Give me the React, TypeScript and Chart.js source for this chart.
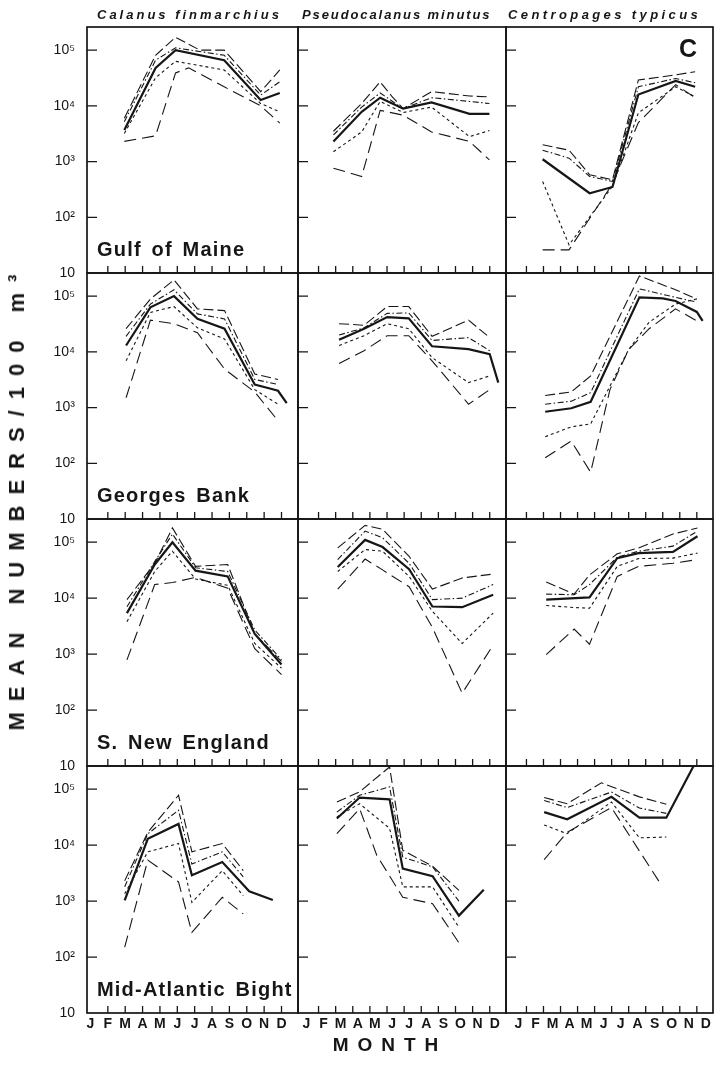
import React, { useEffect, useRef } from 'react';
import { Chart, registerables } from 'chart.js';
Chart.register(...registerables);

// ---------- tick labels / categories ----------
const MONTHS = ['J', 'F', 'M', 'A', 'M', 'J', 'J', 'A', 'S', 'O', 'N', 'D'];
const Y_TICKS = [10, 100, 1000, 10000, 100000];
const Y_LABELS = ['10', '10²', '10³', '10⁴', '10⁵'];
const SPECIES = ['Calanus finmarchius', 'Pseudocalanus minutus', 'Centropages typicus'];
const REGIONS = ['Gulf of Maine', 'Georges Bank', 'S. New England', 'Mid-Atlantic Bight'];

// ---------- data (month position 0 = Jan tick; values per 100 m3) ----------
// series order per panel: mean, upper outer, upper inner, lower inner, lower outer
const gomCalMonths = [1.95, 3.75, 4.9, 5.65, 6.3, 7.7, 9.8, 10.9];
const gomCalMean = [3700, 48000, 100000, null, null, 66000, 12700, 17000];
const gomCalHiO = [6000, 81000, 170000, null, 100000, 100000, 18000, 44000];
const gomCalHiI = [5200, 66000, 110000, null, null, 81000, 15600, 27000];
const gomCalLoI = [3200, 32000, 63000, null, null, 44000, 11000, 7800];
const gomCalLoO = [2300, 2900, 39000, 48000, null, 22000, 10000, 4900];

const gomPseMonths = [1.87, 3.52, 4.6, 5.27, 5.94, 7.6, 9.82, 10.98];
const gomPseMean = [2300, 7800, 14000, null, 8900, 11500, 7200, 7200];
const gomPseHiO = [3500, 11000, 27000, 15000, 8900, 18000, 15000, 14500];
const gomPseHiI = [3000, 9500, 17000, null, 8900, 14000, 12000, 11000];
const gomPseLoI = [1500, 3400, 12000, null, 7600, 9500, 2800, 3600];
const gomPseLoO = [760, 540, 8300, null, 6800, 3400, 2300, 1070];

const gomCenMonths = [1.95, 3.5, 4.71, 6.05, 7.57, 9.76, 10.9];
const gomCenMean = [1100, null, 270, 350, 16000, 28000, 22000];
const gomCenHiO = [2000, 1600, 580, 470, 29000, 36000, 41000];
const gomCenHiI = [1600, 1150, 540, 440, 22000, 31000, 26000];
const gomCenLoI = [440, 32, null, 360, 7500, 22000, 14500];
const gomCenLoO = [26, 26, null, 400, 5000, 24000, 14000];

const gbCalMonths = [2.05, 3.45, 4.81, 6.16, 7.72, 9.46, 10.33, 10.8, 11.3];
const gbCalMean = [13000, 63000, 100000, 39000, 26000, 2600, 2200, 2000, 1200];
const gbCalHiO = [26000, 89000, 195000, 59000, 55000, 4000, null, 3200, null];
const gbCalHiI = [19000, 72000, 130000, 48000, 39000, 3200, null, 2600, null];
const gbCalLoI = [6900, 51000, 65000, 27000, 17000, 2100, null, 1150, null];
const gbCalLoO = [1500, 37000, 32000, 22000, 4900, 1900, null, 580, null];

const gbPseMonths = [2.2, 3.66, 5.01, 6.27, 7.63, 9.76, 11.0, 11.5];
const gbPseMean = [16500, 26000, 42000, 40000, 12600, 11200, 9100, 2800];
const gbPseHiO = [32000, 30000, 65000, 65000, 19000, 37000, 18000, null];
const gbPseHiI = [20000, 27000, 49000, 50000, 16000, 18000, 10500, null];
const gbPseLoI = [13000, 19500, 32000, 26000, 7900, 2800, 3700, null];
const gbPseLoO = [6200, 10500, 19500, 19500, 6900, 1150, 2100, null];

const gbCenMonths = [2.1, 3.63, 4.77, 5.9, 7.0, 7.63, 8.2, 9.0, 9.75, 11.0, 11.34];
const gbCenMean = [840, 970, 1270, null, null, 95000, null, 91000, 82000, 52000, 36000];
const gbCenHiO = [1650, 1900, 3700, null, null, 230000, null, null, 130000, 89000, null];
const gbCenHiI = [1150, 1300, 1850, null, null, 135000, null, null, 95000, 78000, null];
const gbCenLoI = [300, 450, 510, null, 11000, null, 34000, null, 72000, 89000, null];
const gbCenLoO = [126, 250, 69, 2100, 11000, null, 26000, null, 59000, 36000, null];

const sneCalMonths = [2.1, 3.7, 4.72, 6.05, 7.9, 9.46, 11.0];
const sneCalMean = [5400, 40000, 100000, 31000, 24500, 2300, 650];
const sneCalHiO = [9400, 42000, 180000, 37000, 40000, 2300, 740];
const sneCalHiI = [7000, 45000, 140000, 35000, 30000, 2700, 790];
const sneCalLoI = [3800, 30000, 69000, 22000, 17000, 1550, 560];
const sneCalLoO = [790, 17500, 19000, 23500, 15000, 1250, 430];

const snePseMonths = [2.12, 3.72, 4.74, 6.29, 7.65, 9.39, 11.2];
const snePseMean = [36000, 110000, 82000, 33000, 7100, 6900, 11500];
const snePseHiO = [79000, 200000, 170000, 56000, 14500, 23000, 27000];
const snePseHiI = [49000, 158000, 120000, 42000, 9400, 10000, 17500];
const snePseLoI = [30000, 74000, 69000, 24500, 5800, 1550, 5400];
const snePseLoO = [14500, 50000, 32000, 16000, 3000, 200, 1450];

const sneCenMonths = [2.16, 3.8, 4.7, 6.33, 7.58, 9.6, 11.04];
const sneCenMean = [9400, null, 10300, 52000, 64000, 67000, 128000];
const sneCenHiO = [19500, 11800, 26000, 62000, 79000, 140000, 180000];
const sneCenHiI = [11800, 11500, 17500, 54000, 69000, 85000, 158000];
const sneCenLoI = [7400, 6800, 6600, 37000, 51000, 52000, 64000];
const sneCenLoO = [980, 2800, 1500, 24500, 37000, 42000, 49000];

const mabCalMonths = [1.97, 3.3, 5.07, 5.84, 7.59, 8.8, 9.14, 10.5];
const mabCalMean = [1030, 13000, 24000, 2900, 5000, null, 1500, 1050];
const mabCalHiO = [2300, 17000, 78000, 7600, 10700, 3500, null, null];
const mabCalHiI = [1800, 16000, 42000, 4600, 7600, 2700, null, null];
const mabCalLoI = [1350, 7600, 10700, 950, 3500, 1250, null, null];
const mabCalLoO = [150, 5400, 2200, 275, 1170, 590, null, null];

const mabPseMonths = [2.07, 3.4, 4.4, 5.15, 5.92, 7.66, 9.2, 10.65];
const mabPseMean = [30000, 71000, null, 66000, 3800, 2800, 550, 1600];
const mabPseHiO = [59000, 90000, null, 250000, 8100, 4200, 1550, null];
const mabPseHiI = [39000, 78000, null, 110000, 6100, 4100, 1000, null];
const mabPseLoI = [32000, 55000, null, 20000, 1800, 1800, 340, null];
const mabPseLoO = [16000, 45000, 6600, null, 1170, 900, 180, null];

const mabCenMonths = [2.04, 3.39, 5.4, 5.99, 7.63, 8.8, 9.21, 10.81];
const mabCenMean = [39000, 29000, null, 73000, 31000, null, 31000, 260000];
const mabCenHiO = [71000, 55000, 130000, null, 73000, null, 54000, null];
const mabCenHiI = [63000, 47000, null, 89000, 46000, null, 37000, null];
const mabCenLoI = [23000, 16000, null, 59000, 13500, null, 14000, null];
const mabCenLoO = [5500, 17000, null, 47000, null, 2200, null, null];

type Panel = { row: number; col: number; months: number[]; series: (number | null)[][] };
const PANELS: Panel[] = [
  { row: 0, col: 0, months: gomCalMonths, series: [gomCalMean, gomCalHiO, gomCalHiI, gomCalLoI, gomCalLoO] },
  { row: 0, col: 1, months: gomPseMonths, series: [gomPseMean, gomPseHiO, gomPseHiI, gomPseLoI, gomPseLoO] },
  { row: 0, col: 2, months: gomCenMonths, series: [gomCenMean, gomCenHiO, gomCenHiI, gomCenLoI, gomCenLoO] },
  { row: 1, col: 0, months: gbCalMonths, series: [gbCalMean, gbCalHiO, gbCalHiI, gbCalLoI, gbCalLoO] },
  { row: 1, col: 1, months: gbPseMonths, series: [gbPseMean, gbPseHiO, gbPseHiI, gbPseLoI, gbPseLoO] },
  { row: 1, col: 2, months: gbCenMonths, series: [gbCenMean, gbCenHiO, gbCenHiI, gbCenLoI, gbCenLoO] },
  { row: 2, col: 0, months: sneCalMonths, series: [sneCalMean, sneCalHiO, sneCalHiI, sneCalLoI, sneCalLoO] },
  { row: 2, col: 1, months: snePseMonths, series: [snePseMean, snePseHiO, snePseHiI, snePseLoI, snePseLoO] },
  { row: 2, col: 2, months: sneCenMonths, series: [sneCenMean, sneCenHiO, sneCenHiI, sneCenLoI, sneCenLoO] },
  { row: 3, col: 0, months: mabCalMonths, series: [mabCalMean, mabCalHiO, mabCalHiI, mabCalLoI, mabCalLoO] },
  { row: 3, col: 1, months: mabPseMonths, series: [mabPseMean, mabPseHiO, mabPseHiI, mabPseLoI, mabPseLoO] },
  { row: 3, col: 2, months: mabCenMonths, series: [mabCenMean, mabCenHiO, mabCenHiI, mabCenLoI, mabCenLoO] },
];

// ---------- layout / style ----------
const INK = '#161616';
const FONT = "'Liberation Sans', Arial, Helvetica, sans-serif";
const COL_LEFT = [87, 298, 506];
const COL_W = [211, 208, 207];
const ROW_TOP = [27, 273, 519, 766];
const ROW_H = [246, 246, 247, 247];
const PAD = 10;
const LABEL_W = 62;
const LABEL_H = 26;
const X_MIN = -0.2;
const X_MAX = 11.95;
const Y_MAX = 260000;
const LABEL_SHIFT = [0, 5, 9];
const LINE_STYLE = [
  { w: 2.2, dash: [] as number[] },
  { w: 1.1, dash: [10, 4] },
  { w: 1.1, dash: [6, 2.5, 1.5, 2.5] },
  { w: 1.1, dash: [3, 3] },
  { w: 1.1, dash: [12, 6] },
];

const framePlugin = {
  id: 'frame',
  afterDraw(chart: any) {
    const { ctx, chartArea: a, scales } = chart;
    ctx.save();
    ctx.strokeStyle = INK;
    ctx.lineWidth = 1.7;
    ctx.strokeRect(a.left, a.top, a.right - a.left, a.bottom - a.top);
    ctx.lineWidth = 1.3;
    ctx.beginPath();
    Y_TICKS.slice(1).forEach((v) => {
      const y = scales.y.getPixelForValue(v);
      ctx.moveTo(a.left, y);
      ctx.lineTo(a.left + 10, y);
    });
    MONTHS.forEach((_, i) => {
      if (i === 0) return;
      const x = scales.x.getPixelForValue(i);
      ctx.moveTo(x, a.bottom);
      ctx.lineTo(x, a.bottom - 7);
    });
    ctx.stroke();
    ctx.restore();
  },
};

function zeroPad(s: any) {
  s.paddingTop = 0;
  s.paddingBottom = 0;
  s.paddingLeft = 0;
  s.paddingRight = 0;
}

function makeConfig(p: Panel): any {
  const isLeft = p.col === 0;
  const isBottom = p.row === 3;
  return {
    type: 'line',
    data: {
      datasets: p.series.map((s, k) => ({
        data: p.months.map((m, i) => ({ x: m, y: s[i] })),
        borderColor: INK,
        borderWidth: LINE_STYLE[k].w,
        borderDash: LINE_STYLE[k].dash,
        pointRadius: 0,
        fill: false,
        tension: 0,
        spanGaps: true,
      })),
    },
    options: {
      responsive: false,
      animation: false,
      layout: { padding: PAD },
      plugins: { legend: { display: false }, tooltip: { enabled: false } },
      scales: {
        x: {
          type: 'linear',
          min: X_MIN,
          max: X_MAX,
          display: isBottom,
          afterBuildTicks: (s: any) => {
            s.ticks = MONTHS.map((_, i) => ({ value: i }));
          },
          afterFit: (s: any) => {
            zeroPad(s);
            if (isBottom) s.height = LABEL_H;
          },
          grid: { display: false, drawTicks: false },
          border: { display: false },
          ticks: {
            autoSkip: false,
            maxRotation: 0,
            minRotation: 0,
            padding: 3,
            labelOffset: LABEL_SHIFT[p.col],
            color: INK,
            font: { family: FONT, size: 14, weight: 'bold' },
            callback: (_v: any, i: number) => MONTHS[i],
          },
        },
        y: {
          type: 'logarithmic',
          min: 10,
          max: Y_MAX,
          display: isLeft,
          afterBuildTicks: (s: any) => {
            s.ticks = Y_TICKS.map((v) => ({ value: v }));
          },
          afterFit: (s: any) => {
            zeroPad(s);
            if (isLeft) s.width = LABEL_W;
          },
          grid: { display: false, drawTicks: false },
          border: { display: false },
          ticks: {
            padding: 12,
            color: INK,
            font: { family: FONT, size: 14 },
            callback: (_v: any, i: number) => Y_LABELS[i],
          },
        },
      },
    },
    plugins: [framePlugin],
  };
}

export default function App() {
  const refs = useRef<(HTMLCanvasElement | null)[]>([]);
  useEffect(() => {
    const charts = PANELS.map((p, i) => new Chart(refs.current[i] as HTMLCanvasElement, makeConfig(p)));
    return () => charts.forEach((c) => c.destroy());
  }, []);

  const titleLeft = [97, 302, 508];
  const titleSpacing = [3, 1.9, 3.4];

  return (
    <div style={{ position: 'absolute', left: 0, top: 0, width: 722, height: 1066, background: '#fff', fontFamily: FONT, color: INK, overflow: 'hidden' }}>
      {PANELS.map((p, i) => {
        const left = COL_LEFT[p.col] - PAD - (p.col === 0 ? LABEL_W : 0);
        const top = ROW_TOP[p.row] - PAD;
        const w = COL_W[p.col] + 2 * PAD + (p.col === 0 ? LABEL_W : 0);
        const h = ROW_H[p.row] + 2 * PAD + (p.row === 3 ? LABEL_H : 0);
        return (
          <canvas
            key={i}
            ref={(el) => { refs.current[i] = el; }}
            width={w}
            height={h}
            style={{ position: 'absolute', left, top, width: w, height: h }}
          />
        );
      })}
      {SPECIES.map((s, c) => (
        <div key={s} style={{ position: 'absolute', left: titleLeft[c], top: 7, fontSize: 13, lineHeight: '16px', fontWeight: 'bold', fontStyle: 'italic', letterSpacing: titleSpacing[c], whiteSpace: 'nowrap' }}>{s}</div>
      ))}
      <div style={{ position: 'absolute', left: 679, top: 36, fontSize: 25, lineHeight: 1, fontWeight: 'bold' }}>C</div>
      {REGIONS.map((r, k) => (
        <div key={r} style={{ position: 'absolute', left: 97, top: ROW_TOP[k] + ROW_H[k] - 34, fontSize: 20, lineHeight: 1, fontWeight: 'bold', letterSpacing: 1.2, wordSpacing: 3, whiteSpace: 'nowrap' }}>{r}</div>
      ))}
      <div style={{ position: 'absolute', left: 17, top: 497, transform: 'translate(-50%, -50%) rotate(-90deg)', fontSize: 22, lineHeight: 1, fontWeight: 'bold', letterSpacing: 11, whiteSpace: 'nowrap' }}>MEAN NUMBERS/100 m³</div>
      <div style={{ position: 'absolute', left: 390, top: 1044, transform: 'translate(-50%, -50%)', fontSize: 19, lineHeight: 1, fontWeight: 'bold', letterSpacing: 9, whiteSpace: 'nowrap' }}>MONTH</div>
    </div>
  );
}
